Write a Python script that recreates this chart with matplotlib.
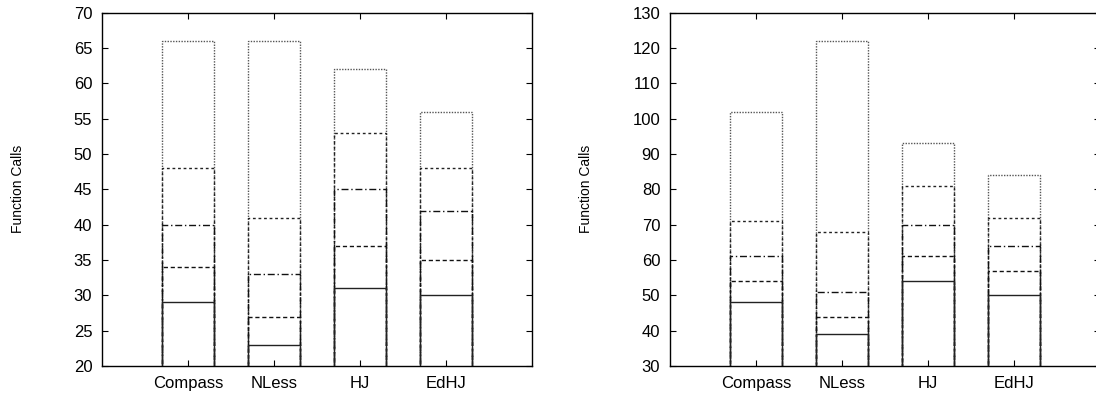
import numpy as np
import matplotlib.pyplot as plt

plt.rcParams['font.family'] = ['Liberation Sans', 'DejaVu Sans']

methods = ['Compass', 'NLess', 'HJ', 'EdHJ']

# function calls per level (stacked outlines, lowest first)
left_levels = [
    [29, 23, 31, 30],
    [34, 27, 37, 35],
    [40, 33, 45, 42],
    [48, 41, 53, 48],
    [66, 66, 62, 56],
]
right_levels = [
    [48, 39, 54, 50],
    [54, 44, 61, 57],
    [61, 51, 70, 64],
    [71, 68, 81, 72],
    [102, 122, 93, 84],
]

styles = ['-', (0, (3, 2)), (0, (5, 2, 1, 2)), (0, (2, 2)), (0, (1, 1))]
colors = ['#222222', '#111111', '#111111', '#222222', '#555555']

fig = plt.figure(figsize=(10.96, 4.0), dpi=100)
ax1 = fig.add_axes([102 / 1096, 34 / 400, 430 / 1096, 353.3 / 400])
ax2 = fig.add_axes([670 / 1096, 34 / 400, 430 / 1096, 353.3 / 400])

x = np.arange(1, len(methods) + 1)

def draw(ax, levels, ylim, step):
    for vals, ls, c in zip(levels[::-1], styles[::-1], colors[::-1]):
        ax.bar(x, vals, width=0.6, fill=False, edgecolor=c, linestyle=ls, linewidth=1.0)
    ax.set_xlim(0, 5)
    ax.set_ylim(*ylim)
    ax.set_yticks(np.arange(ylim[0], ylim[1] + 1, step))
    ax.set_xticks(x)
    ax.set_xticklabels(methods)
    ax.tick_params(direction='in', top=True, right=True, length=4, labelsize=12, pad=7)
    for s in ax.spines.values():
        s.set_linewidth(1.0)
    ax.set_ylabel('Function Calls', fontsize=10)
    ax.yaxis.set_label_coords(-0.18, 0.5)

draw(ax1, left_levels, (20, 70), 5)
draw(ax2, right_levels, (30, 130), 10)

fig.savefig('out.png', dpi=100)
